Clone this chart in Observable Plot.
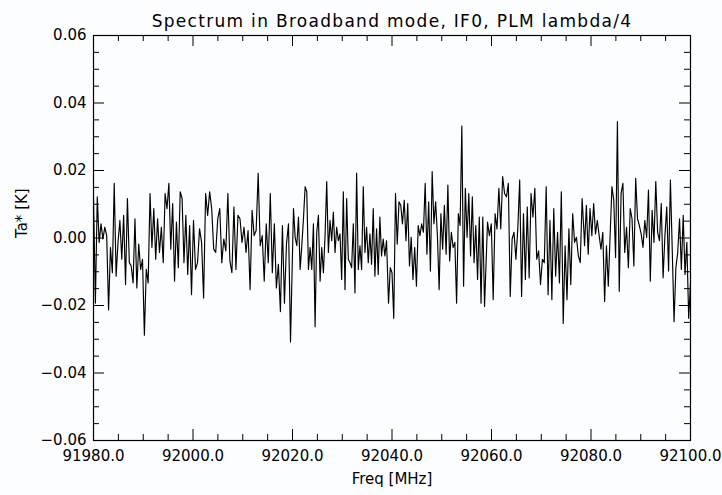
<!DOCTYPE html>
<html>
<head>
<meta charset="utf-8">
<script src="https://cdn.jsdelivr.net/npm/d3@7"></script>
<script src="https://cdn.jsdelivr.net/npm/@observablehq/plot@0.6"></script>
<style>
  html, body { margin: 0; padding: 0; background: #fcfdff; }
  #chart svg { display: block; }
</style>
</head>
<body>
<div id="chart"></div>
<script>
// Texts
const titleText = "Spectrum in Broadband mode, IF0, PLM lambda/4";
const xLabel = "Freq [MHz]";
const yLabel = "Ta* [K]";

// Tick labels
const xMajorTicks = [91980, 92000, 92020, 92040, 92060, 92080, 92100];
const yMajorTicks = [-0.06, -0.04, -0.02, 0.00, 0.02, 0.04, 0.06];

// Spectrum Ta* [K] values, in six consecutive stretches
const seg1 = [.0117,-.0193,.0122,-.0013,.0042,-.0003,.0032,.0007,-.0213,-.0028,-.0103,.0162,-.0113,-.0013,.0052,-.0063,.0067,-.0138,.0117,-.0073,-.0083,-.0133,.0057,-.0148,-.0018,-.0093,-.0063,-.0288,-.0093,-.0133,.0132,-.0028,.0087,-.0063,.0057,-.0043,.0032,-.0073,.0132,.0087,.0162,-.0033,.0102,-.0128,.0047,-.0088,.0137,.0117,-.0073,.0067,-.0108,.0037,-.0168];
const seg2 = [.0052,-.0093,-.0073,.0027,-.0013,-.0178,.0132,.0067,.0137,.0087,-.0033,-.0043,.0057,.0087,-.0073,-.0003,-.0038,.0132,-.0068,-.0103,.0092,-.0093,.0067,.0057,-.0013,.0032,-.0043,.0022,-.0153,.0082,.0007,.0022,.0192,-.0023,.0007,-.0128,.0042,-.0073,.0132,-.0103,.0042,-.0148,-.0078,-.0218,.0037,-.0193,-.0018,.0042,-.0308];
const seg3 = [.0087,.0002,-.0023,.0062,-.0093,-.0023,.0057,.0152,.0137,-.0093,-.0028,-.0093,.0042,-.0263,.0017,.0067,-.0128,-.0028,-.0103,.0007,.0167,-.0043,.0052,-.0008,.0077,-.0043,.0032,-.0008,.0012,-.0123,.0137,-.0153,.0117,-.0063,-.0073,-.0088,.0042,-.0163,.0192,-.0093,-.0023,-.0093,.0152,-.0043,.0032,-.0073,.0012,-.0078,.0087,-.0113,.0027,-.0108,.0062,-.0053,-.0003,-.0053,-.0008];
const seg4 = [-.0193,-.0088,-.0103,-.0238,.0132,-.0018,.0107,.0097,.0042,.0112,-.0008,.0102,-.0083,.0002,-.0123,-.0028,-.0143,.0037,.0007,.0042,.0017,.0162,-.0048,.0107,-.0098,.0197,.0042,.0107,.0007,-.0153,.0072,-.0033,.0097,-.0048,.0157,-.0068,.0017,-.0028,-.0013,-.0193,.0072,.0037,.0332,-.0143,.0147,.0002,.0132,-.0053,.0122,-.0073,.0037,-.0123,.0062,-.0193,.0062,-.0203];
const seg5 = [.0047,.0007,.0042,-.0183,.0072,.0027,.0147,.0027,.0182,.0132,.0122,.0162,-.0173,-.0003,.0017,-.0063,.0027,.0172,-.0173,.0072,-.0123,.0092,-.0118,.0132,.0062,.0147,-.0063,-.0038,-.0138,-.0063,-.0073,.0152,-.0168,.0052,-.0183,.0087,-.0113,.0017,-.0133,.0137,-.0253,-.0023,-.0183,.0027,-.0138,.0072,-.0013,.0002,-.0053,-.0073,.0117,.0012];
const seg6 = [-.0023,.0097,-.0048,.0087,.0007,.0102,.0012,.0052,.0007,-.0033,.0017,-.0188,-.0023,-.0143,.0007,.0152,.0112,-.0058,.0345,-.0158,.0132,.0162,-.0043,.0032,-.0088,.0087,.0057,-.0083,.0177,.0057,.0037,.0012,-.0028,.0052,.0002,.0142,-.0128,.0082,-.0013,.0167,.0017,-.0008,.0102,-.0118,.0007,.0092,-.0098,.0172,-.0033,-.0248,-.0088,-.0043,.0057,-.0093,.0067,-.0108,-.0013,-.0238,-.0133];
// Frequency span [MHz] of each stretch (first and last channel)
const segFirstFreq = [91980.0, 92000.1, 92020.2, 92039.3, 92059.2, 92078.7];
const segLastFreq  = [91999.7, 92019.6, 92038.9, 92058.6, 92078.6, 92100.0];

const segments = [seg1, seg2, seg3, seg4, seg5, seg6];
const spectrum = segments.flatMap((vals, s) =>
  vals.map((v, i) => ({
    freq: segFirstFreq[s] + i * (segLastFreq[s] - segFirstFreq[s]) / (vals.length - 1),
    ta: v
  }))
);

const W = 722, H = 495;
const mL = 93, mR = 32, mT = 35, mB = 55;
const innerW = W - mL - mR, innerH = H - mT - mB;
const majLen = 11, minLen = 6;

const xMinor = d3.range(91980, 92100.001, 5).filter(v => v % 20 !== 0);
const yMinor = d3.range(-60, 61, 5).filter(v => v % 20 !== 0).map(v => v / 1000);

const fmtY = d3.format(".2f");

const chart = Plot.plot({
  width: W,
  height: H,
  marginLeft: mL,
  marginRight: mR,
  marginTop: mT,
  marginBottom: mB,
  style: {fontFamily: "'DejaVu Sans', sans-serif", fontSize: "14px", background: "#fcfdff", color: "#000"},
  x: {domain: [91980, 92100], axis: null},
  y: {domain: [-0.06, 0.06], axis: null},
  marks: [
    Plot.line(spectrum, {x: "freq", y: "ta", stroke: "#000", strokeWidth: 1.15, clip: true}),
    // inward ticks, bottom & top
    Plot.ruleX(xMajorTicks, {x: d => d, insetTop: innerH - majLen, stroke: "#000"}),
    Plot.ruleX(xMajorTicks, {x: d => d, insetBottom: innerH - majLen, stroke: "#000"}),
    Plot.ruleX(xMinor, {x: d => d, insetTop: innerH - minLen, stroke: "#000"}),
    Plot.ruleX(xMinor, {x: d => d, insetBottom: innerH - minLen, stroke: "#000"}),
    // inward ticks, left & right
    Plot.ruleY(yMajorTicks, {y: d => d, insetRight: innerW - majLen, stroke: "#000"}),
    Plot.ruleY(yMajorTicks, {y: d => d, insetLeft: innerW - majLen, stroke: "#000"}),
    Plot.ruleY(yMinor, {y: d => d, insetRight: innerW - minLen, stroke: "#000"}),
    Plot.ruleY(yMinor, {y: d => d, insetLeft: innerW - minLen, stroke: "#000"}),
    Plot.frame({stroke: "#000", strokeWidth: 1.2}),
    // tick labels
    Plot.axisX(xMajorTicks, {tickSize: 0, tickPadding: 10, tickFormat: d => d.toFixed(1), label: null, fontSize: 15}),
    Plot.axisY(yMajorTicks, {tickSize: 0, tickPadding: 7, tickFormat: d => fmtY(d), label: null, fontSize: 15}),
    // title and axis titles
    Plot.text([titleText], {frameAnchor: "top", dy: -21, fontSize: 17, fill: "#000", style: "letter-spacing: 1.3px"}),
    Plot.text([xLabel], {frameAnchor: "bottom", dy: 43, fontSize: 15, fill: "#000"}),
    Plot.text([yLabel], {frameAnchor: "left", dx: -71, rotate: -90, fontSize: 15, fill: "#000"})
  ]
});

// widen the title's letter spacing to match the reference's stroke font
chart.querySelectorAll("text").forEach(t => {
  if (t.textContent === titleText) t.setAttribute("letter-spacing", "1.3");
});

document.getElementById("chart").append(chart);
</script>
</body>
</html>
